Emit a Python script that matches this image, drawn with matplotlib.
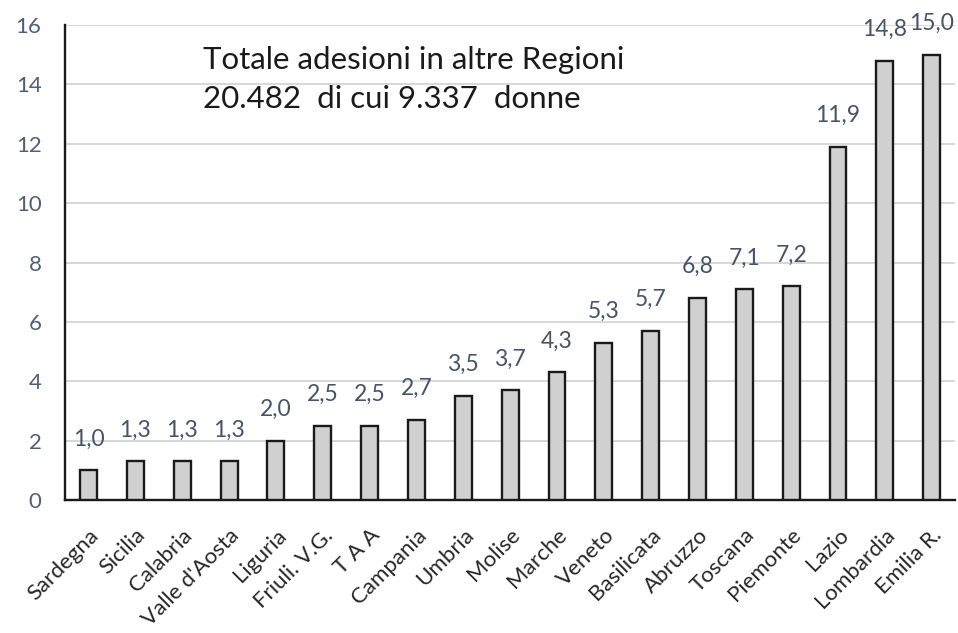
import matplotlib
matplotlib.use("Agg")
import matplotlib.pyplot as plt
import numpy as np

# Regions and values (percent), sorted ascending as in the source chart
regioni = ["Sardegna", "Sicilia", "Calabria", "Valle d'Aosta", "Liguria",
           "Friuli. V.G.", "T A A", "Campania", "Umbria", "Molise", "Marche",
           "Veneto", "Basilicata", "Abruzzo", "Toscana", "Piemonte", "Lazio",
           "Lombardia", "Emilia R."]
valori = [1.0, 1.3, 1.3, 1.3, 2.0, 2.5, 2.5, 2.7, 3.5, 3.7, 4.3,
          5.3, 5.7, 6.8, 7.1, 7.2, 11.9, 14.8, 15.0]
yticks = [0, 2, 4, 6, 8, 10, 12, 14, 16]
nota = "Totale adesioni in altre Regioni\n20.482  di cui 9.337  donne"

plt.rcParams['font.family'] = ['Lato', 'DejaVu Sans']

fig = plt.figure(figsize=(9.58, 6.33), dpi=100)
ax = fig.add_axes([0.068, 0.21, 0.929, 0.7505])

x = np.arange(len(regioni))
ax.bar(x, valori, width=0.36, color="#d0d0d0", edgecolor="#1a1a1a",
       linewidth=1.7, zorder=3)

# value labels with decimal comma
for xi, v in zip(x, valori):
    ax.annotate(f"{v:.1f}".replace(".", ","), (xi, v), xytext=(0, 15),
                textcoords="offset points", ha="center", va="bottom",
                fontsize=16.5, color="#44546a")

ax.set_xlim(-0.5, len(regioni) - 0.5)
ax.set_ylim(0, 16)
ax.set_yticks(yticks)
ax.set_yticklabels([str(t) for t in yticks], fontsize=16, color="#4f5f78")
ax.set_xticks(x)
ax.set_xticklabels(regioni, rotation=45, ha="right", rotation_mode="anchor",
                   fontsize=16, color="#262626")
ax.tick_params(axis="both", length=0)
ax.tick_params(axis="y", pad=17)
ax.tick_params(axis="x", pad=18)

ax.grid(axis="y", color="#d4d4d4", linewidth=1.3, zorder=0)
ax.set_axisbelow(True)
for s in ["top", "right"]:
    ax.spines[s].set_visible(False)
ax.spines["left"].set_linewidth(1.7)
ax.spines["bottom"].set_linewidth(1.7)
ax.spines["left"].set_color("#1a1a1a")
ax.spines["bottom"].set_color("#1a1a1a")

ax.text(2.44, 15.3, nota, fontsize=22.5, color="#1a1a1a", linespacing=1.5,
        va="top", ha="left")

fig.savefig("out.png", dpi=100)
